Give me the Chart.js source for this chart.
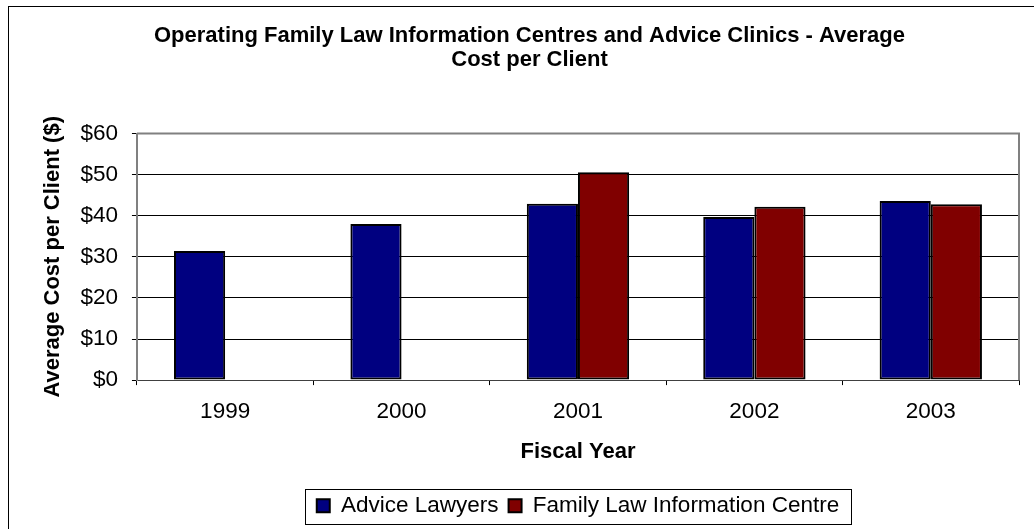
<!DOCTYPE html>
<html>
<head>
<meta charset="utf-8">
<script src="https://cdn.jsdelivr.net/npm/chart.js@4.4.0/dist/chart.umd.min.js"></script>
<style>
    body { margin: 0; background: #ffffff; }
    #wrap { width: 1034px; height: 529px; }
</style>
</head>
<body>
<div id="wrap"><canvas id="grafico" width="1034" height="529"></canvas></div>
<script>
// Datos del gráfico
var anios = ["1999", "2000", "2001", "2002", "2003"];
var abogados = [31.4, 38.0, 42.9, 39.7, 43.6];
var centros = [null, null, 50.6, 42.2, 42.8];
var titulo = ["Operating Family Law Information Centres and Advice Clinics - Average", "Cost per Client"];
var fuente = "'Liberation Sans', Arial, sans-serif";

// Marco exterior, borde del área de trazado y caja de la leyenda
var marcos = {
    id: "marcos",
    beforeDraw: function (chart) {
        var c = chart.ctx;
        c.save();
        c.fillStyle = "#ffffff";
        c.fillRect(0, 0, chart.width, chart.height);
        c.strokeStyle = "#000000";
        c.lineWidth = 1;
        c.strokeRect(8.5, 6.5, chart.width + 20, chart.height + 20);
        c.restore();
    },
    afterDatasetsDraw: function (chart) {
        var a = chart.chartArea;
        var c = chart.ctx;
        c.save();
        c.strokeStyle = "#808080";
        c.lineWidth = 2;
        c.beginPath();
        c.moveTo(a.left, a.top);
        c.lineTo(a.right, a.top);
        c.lineTo(a.right, a.bottom);
        c.stroke();
        c.restore();
    },
    afterDraw: function (chart) {
        var l = chart.legend;
        var cajas = l.legendHitBoxes;
        if (!cajas || !cajas.length) return;
        var x0 = cajas[0].left - 12;
        var ultima = cajas[cajas.length - 1];
        var x1 = ultima.left + ultima.width + 12;
        var y0 = cajas[0].top - 6;
        var y1 = cajas[0].top + cajas[0].height + 6;
        var c = chart.ctx;
        c.save();
        c.strokeStyle = "#000000";
        c.lineWidth = 1;
        c.strokeRect(Math.round(x0) + 0.5, Math.round(y0) + 0.5, Math.round(x1 - x0), Math.round(y1 - y0));
        c.restore();
    }
};

var ctx = document.getElementById("grafico").getContext("2d");
var myChart = new Chart(ctx, {
    type: "bar",
    data: {
        labels: anios,
        datasets: [
            {
                label: "Advice Lawyers",
                data: abogados,
                backgroundColor: "#000080",
                borderColor: "#000000",
                borderWidth: 2,
                borderSkipped: false
            },
            {
                label: "Family Law Information Centre",
                data: centros,
                backgroundColor: "#800000",
                borderColor: "#000000",
                borderWidth: 2,
                borderSkipped: false
            }
        ]
    },
    options: {
        responsive: false,
        animation: false,
        layout: { padding: { top: 14, left: 40, right: 15, bottom: 2 } },
        datasets: { bar: { categoryPercentage: 0.58, barPercentage: 1.0 } },
        scales: {
            x: {
                grid: { drawOnChartArea: false, drawTicks: true, tickLength: 5, color: "#000000" },
                border: { color: "#404040", width: 1 },
                ticks: { color: "#000000", padding: 13, font: { family: fuente, size: 22.5 } },
                title: {
                    display: true,
                    text: "Fiscal Year",
                    color: "#000000",
                    font: { family: fuente, size: 22, weight: "bold" },
                    padding: { top: 1, bottom: 19 }
                }
            },
            y: {
                min: 0,
                max: 60,
                grid: { color: "#000000", tickLength: 5 },
                border: { color: "#808080", width: 2 },
                ticks: {
                    stepSize: 10,
                    color: "#000000",
                    padding: 14,
                    font: { family: fuente, size: 22.5 },
                    callback: function (value) {
                        return "$" + value;
                    }
                },
                title: {
                    display: true,
                    text: "Average Cost per Client ($)",
                    color: "#000000",
                    font: { family: fuente, size: 22, weight: "bold" },
                    padding: { top: 0, bottom: 0 }
                }
            }
        },
        plugins: {
            title: {
                display: true,
                text: titulo,
                color: "#000000",
                font: { family: fuente, size: 22, weight: "bold", lineHeight: 1.08 },
                padding: { top: 10, bottom: 62 }
            },
            legend: {
                position: "bottom",
                fullSize: false,
                labels: {
                    color: "#000000",
                    font: { family: fuente, size: 22.5 },
                    boxWidth: 13,
                    boxHeight: 13,
                    padding: 10,
                    useBorderRadius: false
                }
            },
            tooltip: { enabled: false }
        }
    },
    plugins: [marcos]
});
</script>
</body>
</html>
